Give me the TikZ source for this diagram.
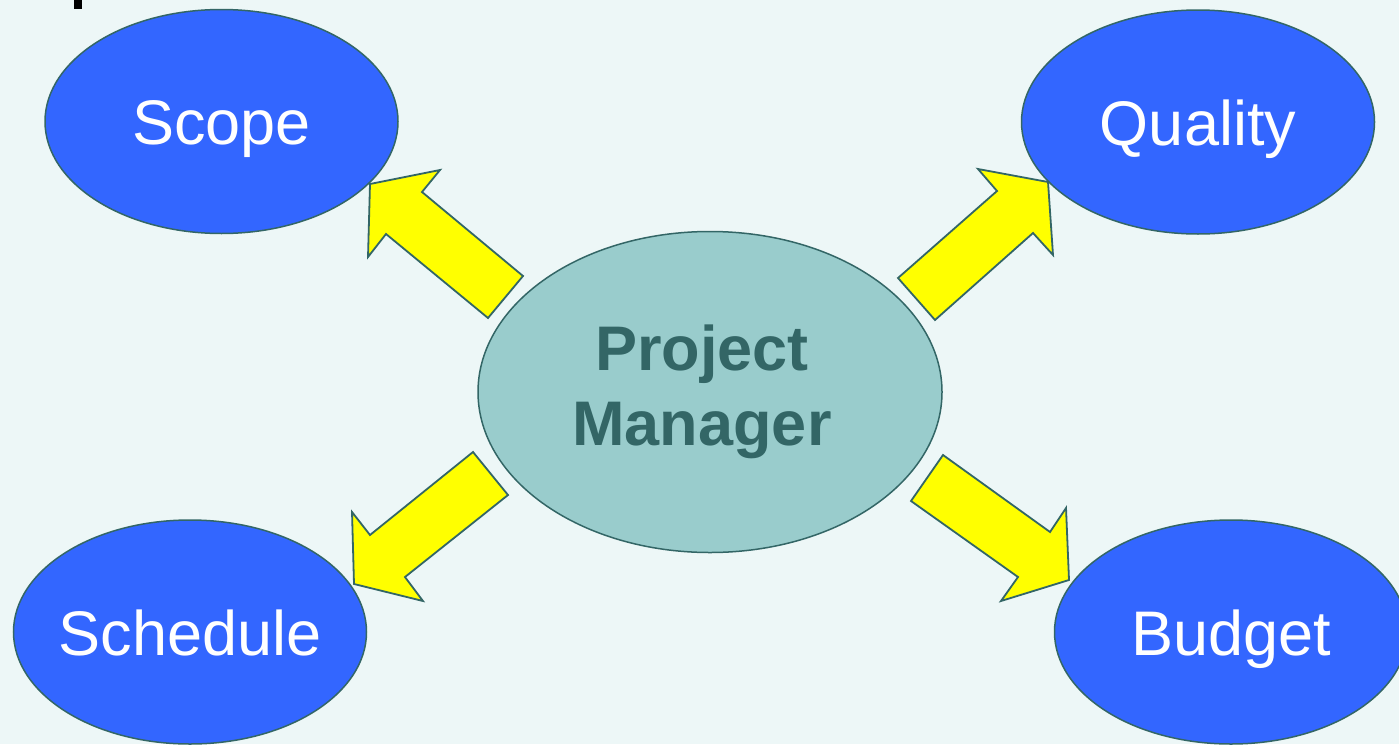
\documentclass[tikz,border=0pt]{standalone}
\usepackage{fontspec}
\setmainfont{Liberation Sans}
\usetikzlibrary{shapes.geometric}

\definecolor{bgcyan}{HTML}{EDF7F7}
\definecolor{goalblue}{HTML}{3366FF}
\definecolor{pmteal}{HTML}{99CCCC}
\definecolor{darkteal}{HTML}{336666}
\definecolor{arrowyellow}{HTML}{FFFF00}

\begin{document}
\begin{tikzpicture}[x=1pt,y=-1pt]
        \tikzstyle{every node}=[font=\fontsize{63}{75}\selectfont]
        \tikzstyle{goal}=[ellipse, draw=darkteal, line width=1.5pt, fill=goalblue, text=white,
            minimum width=353pt, minimum height=224pt, inner xsep=-20pt, inner ysep=0pt,
            text height=46pt, text depth=0pt]
        \tikzstyle{blockarrow}=[draw=darkteal, line width=1.8pt, fill=arrowyellow, line join=miter]

        \useasboundingbox[fill=bgcyan] (0,0) rectangle (1399,744);
        \fill[black] (74,0) rectangle (82,9);

        \node[ellipse, draw=darkteal, line width=1.5pt, fill=pmteal,
            minimum width=464pt, minimum height=321pt, inner sep=0pt] (pm) at (710,392) {};
        \node[text=darkteal, align=center, font=\fontsize{63}{75}\selectfont\bfseries]
            (pmtext) at ([xshift=-8pt]pm.center) {Project\\Manager};

        \node[goal] (scope) at (221.5,121.5) {Scope};
        \node[goal] (quality) at (1198,122) {Quality};
        \node[goal] (schedule) at (190,632) {Schedule};
        \node[goal] (budget) at (1231,632) {Budget};

        % block arrows from the manager out to the four goals
        \draw[blockarrow] (370,184) -- (440,170) -- (422,192) -- (523,276) -- (488,318) -- (386,234) -- (368,257) -- cycle;
        \draw[blockarrow] (898,278) -- (997,191) -- (978,169) -- (1048,182) -- (1053,255) -- (1033,233) -- (935,320) -- cycle;
        \draw[blockarrow] (473,452) -- (508,495) -- (405,577) -- (423,601) -- (354,584) -- (352,512) -- (370,535) -- cycle;
        \draw[blockarrow] (943,455) -- (1050,532) -- (1066,508) -- (1069,580) -- (1001,601) -- (1018,577) -- (911,501) -- cycle;
    \end{tikzpicture}
\end{document}
